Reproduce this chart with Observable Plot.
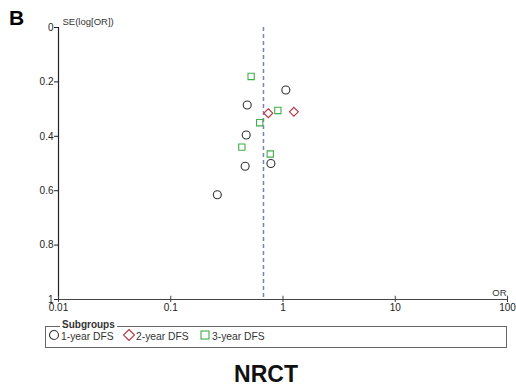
<!DOCTYPE html>
<html>
<head>
<meta charset="utf-8">
<script src="https://cdn.jsdelivr.net/npm/d3@7"></script>
<script src="https://cdn.jsdelivr.net/npm/@observablehq/plot@0.6"></script>
<style>
  html, body { margin: 0; padding: 0; background: #fff; }
  body { width: 516px; height: 388px; position: relative; overflow: hidden; font-family: "Liberation Sans", Arial, sans-serif; color: #222; }
  #chart { position: absolute; left: 0; top: 0; }
  .abs { position: absolute; white-space: nowrap; }
  #panel { left: 9px; top: 6px; font-size: 21px; font-weight: bold; color: #000; }
  #legend { left: 45px; top: 326px; width: 460px; height: 20px; border: 1px solid #666; }
  #legtitle { left: 60px; top: 318.5px; font-size: 10px; font-weight: bold; background: #fff; padding: 0 2px; color: #333; }
  .item { position: absolute; top: 4px; font-size: 10.3px; color: #333; display: flex; align-items: center; }
  .item svg { margin-right: 1px; margin-top: -4px; }
  #title { left: 0; width: 532px; top: 361px; text-align: center; font-size: 23px; font-weight: bold; color: #111; }
</style>
</head>
<body>
<div id="chart"></div>
<div class="abs" id="panel">B</div>
<div class="abs" id="legend"></div>
<div class="abs" id="legtitle">Subgroups</div>
<div class="abs" id="title">NRCT</div>
<script>
// Data
const seriesNames = ["1-year DFS", "2-year DFS", "3-year DFS"];
const seriesSymbols = ["circle", "diamond2", "square2"];
const seriesColors = ["#333333", "#b5343f", "#3fae49"];

const or1 = [1.06, 0.48, 0.47, 0.46, 0.78, 0.26];
const se1 = [0.23, 0.285, 0.395, 0.51, 0.50, 0.615];
const or2 = [0.74, 1.25];
const se2 = [0.315, 0.31];
const or3 = [0.52, 0.90, 0.62, 0.43, 0.77];
const se3 = [0.18, 0.305, 0.35, 0.44, 0.465];

const pooledOR = 0.67;
const xTicks = [0.01, 0.1, 1, 10, 100];
const yTicks = [0, 0.2, 0.4, 0.6, 0.8, 1];

const rows = [];
[[or1, se1], [or2, se2], [or3, se3]].forEach(([ors, ses], i) => {
  ors.forEach((v, j) => rows.push({group: seriesNames[i], or: v, se: ses[j]}));
});

const chart = Plot.plot({
  width: 516,
  height: 388,
  marginLeft: 58,
  marginRight: 9,
  marginTop: 27,
  marginBottom: 89,
  style: {fontFamily: "Liberation Sans, Arial, sans-serif", fontSize: "10px", color: "#222", background: "transparent"},
  x: {type: "log", domain: [0.01, 100]},
  y: {domain: [0, 1], reverse: true},
  symbol: {domain: seriesNames, range: seriesSymbols},
  color: {domain: seriesNames, range: seriesColors},
  marks: [
    Plot.ruleX([0.01], {y1: 0, y2: 1, stroke: "#222", strokeWidth: 1.2}),
    Plot.ruleY([1], {x1: 0.01, x2: 100, stroke: "#444", strokeWidth: 1.2}),
    Plot.axisY({ticks: yTicks, tickSize: 4, tickPadding: 1, tickFormat: d => String(d), label: null, stroke: "#222"}),
    Plot.axisX({ticks: xTicks, tickSize: 3, tickPadding: 1, tickFormat: d => String(d), label: null, stroke: "#444"}),
    Plot.ruleX(xTicks, {y1: 1, y2: 0.988, stroke: "#444"}),
    Plot.ruleX([pooledOR], {y1: 0, y2: 1, stroke: "#7b80b8", strokeWidth: 1.5, strokeDasharray: "4,3"}),
    Plot.dot(rows, {x: "or", y: "se", symbol: "group", stroke: "group", fill: "white", r: 4, strokeWidth: 1.1}),
    Plot.text(["SE(log[OR])"], {x: 0.01, y: 0, text: d => d, dx: 4, dy: -6, textAnchor: "start", fontSize: 9.5, fill: "#333"}),
    Plot.text(["OR"], {x: 100, y: 1, text: d => d, dx: -1, dy: -7, textAnchor: "end", fontSize: 9.5, fill: "#333"})
  ]
});
document.getElementById("chart").appendChild(chart);

// Legend items
const legend = document.getElementById("legend");
const itemLefts = [2, 77, 153];
const shapes = {
  circle: c => `<circle cx="6" cy="6" r="4.5" fill="none" stroke="${c}" stroke-width="1.1"/>`,
  diamond2: c => `<path d="M6,0.5 L11.5,6 L6,11.5 L0.5,6 Z" fill="none" stroke="${c}" stroke-width="1.1"/>`,
  square2: c => `<rect x="2" y="2" width="8" height="8" fill="none" stroke="${c}" stroke-width="1.1"/>`
};
seriesNames.forEach((name, i) => {
  const div = document.createElement("div");
  div.className = "item";
  div.style.left = itemLefts[i] + "px";
  div.innerHTML = `<svg width="12" height="12">${shapes[seriesSymbols[i]](seriesColors[i])}</svg><span>${name}</span>`;
  legend.appendChild(div);
});
</script>
</body>
</html>
